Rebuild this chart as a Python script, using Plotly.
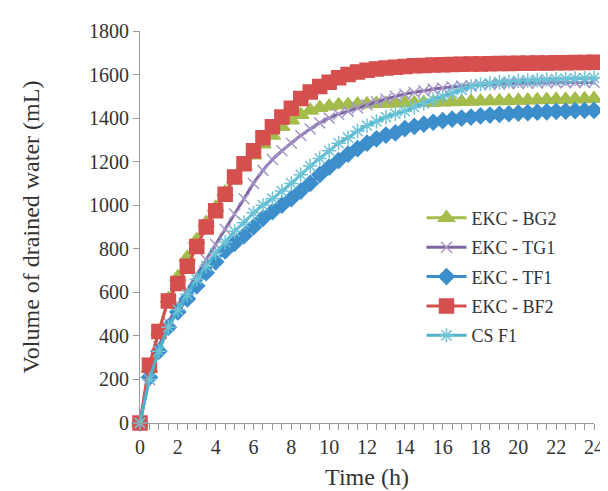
import plotly.graph_objects as go

time_h = [i * 0.5 for i in range(49)]

ekc_bg2 = [0, 250, 420, 570, 670, 760, 840, 920, 990, 1060, 1120, 1180, 1230, 1280, 1320, 1360, 1390,
           1415, 1435, 1448, 1455, 1460, 1462, 1464, 1465, 1466, 1467, 1468, 1469, 1470, 1471, 1472, 1473,
           1474, 1475, 1476, 1477, 1478, 1479, 1480, 1481, 1482, 1483, 1484, 1485, 1486, 1487, 1488, 1489]
ekc_tg1 = [0, 200, 350, 460, 540, 610, 680, 750, 820, 890, 960, 1030, 1100, 1160, 1210, 1250, 1285,
           1320, 1350, 1378, 1400, 1418, 1432, 1446, 1460, 1474, 1488, 1500, 1510, 1518, 1526, 1533, 1538,
           1543, 1547, 1550, 1553, 1555, 1557, 1558, 1559, 1560, 1561, 1562, 1563, 1563, 1564, 1564, 1565]
ekc_tf1 = [0, 210, 330, 440, 510, 570, 630, 690, 740, 790, 825, 860, 900, 940, 970, 1000, 1030,
           1065, 1100, 1140, 1175, 1205, 1235, 1260, 1285, 1305, 1322, 1332, 1352, 1362, 1372, 1381, 1388,
           1395, 1400, 1405, 1410, 1414, 1417, 1420, 1423, 1425, 1427, 1429, 1431, 1432, 1434, 1435, 1436]
ekc_bf2 = [0, 265, 420, 560, 640, 720, 810, 900, 975, 1050, 1130, 1190, 1250, 1310, 1360, 1405, 1445,
           1490, 1520, 1545, 1565, 1585, 1600, 1612, 1620, 1626, 1630, 1634, 1637, 1640, 1642, 1644, 1645,
           1646, 1647, 1648, 1649, 1650, 1651, 1651, 1652, 1652, 1653, 1653, 1654, 1654, 1655, 1655, 1656]
cs_f1 = [0, 200, 330, 440, 520, 590, 660, 720, 780, 830, 880, 920, 965, 1000, 1030, 1065, 1100,
         1140, 1180, 1215, 1250, 1285, 1310, 1340, 1365, 1385, 1405, 1420, 1432, 1450, 1468, 1485, 1500,
         1515, 1530, 1545, 1555, 1560, 1565, 1568, 1571, 1573, 1575, 1577, 1579, 1580, 1582, 1583, 1585]

series = [
    ("EKC - BG2", ekc_bg2, "#A3BC4A", "#A3BC4A", "triangle-up", 14),
    ("EKC - TG1", ekc_tg1, "#8064A2", "#A697C8", "x-thin-open", 11),
    ("EKC - TF1", ekc_tf1, "#3C8FCB", "#3C8FCB", "diamond", 12),
    ("EKC - BF2", ekc_bf2, "#D64F4F", "#D64F4F", "square", 14),
    ("CS F1", cs_f1, "#4BB4CA", "#6EC3D6", "asterisk-open", 12),
]

fig = go.Figure()
for i, (name, vals, color, mcolor, sym, size) in enumerate(series):
    fig.add_trace(go.Scatter(
        x=time_h, y=vals, name=name, mode="lines+markers", legendgroup=f"g{i}",
        line=dict(color=color, width=3, shape="spline", smoothing=0.6),
        marker=dict(symbol=sym, size=size, color=mcolor,
                    line=dict(color=mcolor, width=1.5)),
        cliponaxis=False,
    ))

font_family = "Liberation Serif"
fig.update_layout(
    width=608, height=491,
    margin=dict(l=132, r=13, t=21, b=76),
    paper_bgcolor="white", plot_bgcolor="white",
    font=dict(family=font_family, size=19, color="#333"),
    showlegend=True,
    legend=dict(x=0.62, y=0.57, xanchor="left", yanchor="top",
                font=dict(family=font_family, size=18, color="#333"),
                bgcolor="rgba(0,0,0,0)", tracegroupgap=3, itemwidth=40),
    xaxis=dict(range=[0, 24], tick0=0, dtick=2, ticks="outside", ticklen=6,
               tickcolor="#999", showline=True, linecolor="#999", linewidth=1,
               showgrid=False, zeroline=False,
               minor=dict(dtick=0.5, ticks="outside", ticklen=6, tickcolor="#999", showgrid=False),
               title=dict(text="Time (h)", font=dict(family=font_family, size=24), standoff=11),
               tickfont=dict(family=font_family, size=20)),
    yaxis=dict(range=[0, 1800], tick0=0, dtick=200, ticks="outside", ticklen=6,
               tickcolor="#999", showline=True, linecolor="#999", linewidth=1,
               showgrid=False, zeroline=False,
               title=dict(text="Volume of drained water (mL)", font=dict(family=font_family, size=24), standoff=42),
               tickfont=dict(family=font_family, size=20)),
)

fig.write_html("out.html")
